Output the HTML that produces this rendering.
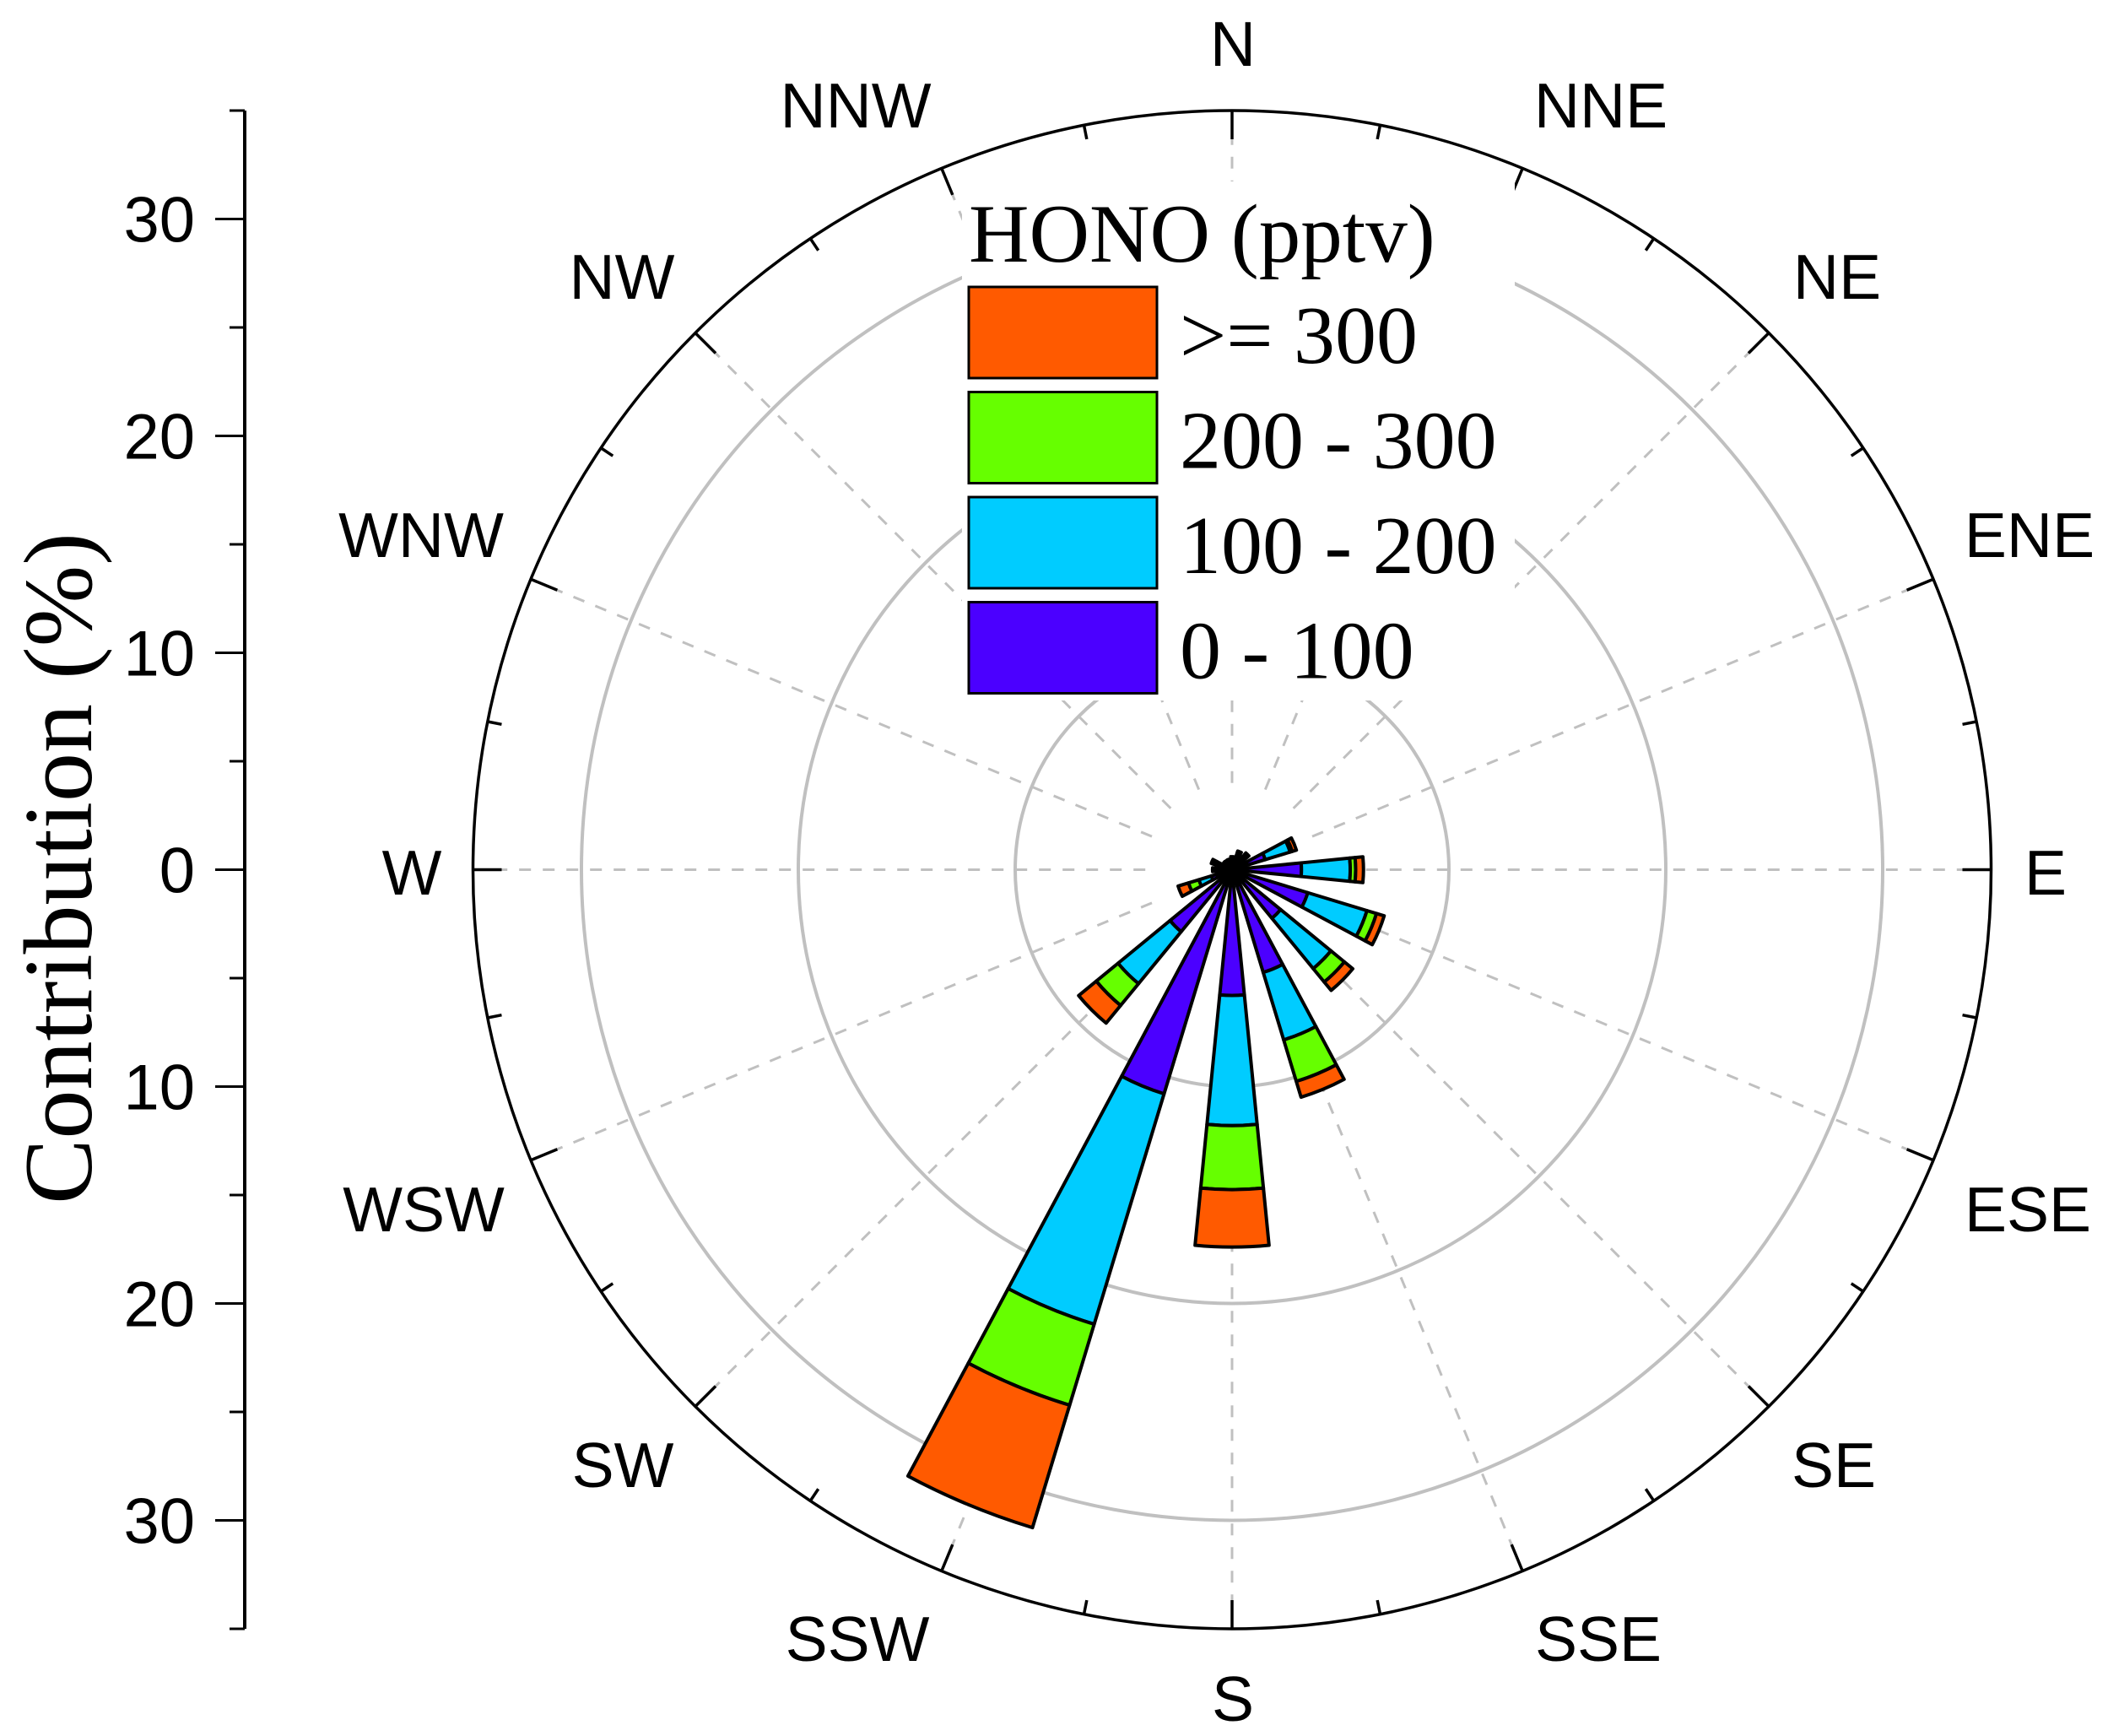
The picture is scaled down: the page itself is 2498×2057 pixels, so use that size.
<!DOCTYPE html>
<html><head><meta charset="utf-8"><style>
html,body{margin:0;padding:0;background:#fff;}
svg{display:block;}
</style></head><body>
<svg id="chart" width="2498" height="2057" viewBox="0 0 2498 2057" xmlns="http://www.w3.org/2000/svg">
<g id="grid"></g>
<g id="bars"></g>
<g id="frame"></g>
<g id="labels"></g>
<g id="yaxis"></g>
<text x="0" y="0" transform="translate(108,1029) rotate(-90)" text-anchor="middle" font-family="Liberation Serif, serif" font-size="116">Contribution (%)</text>
<g id="legend">
<rect x="1140" y="215" width="655" height="615" fill="#fff"/>
<text x="1148" y="310" font-family="Liberation Serif, serif" font-size="99">HONO (pptv)</text>
</g>
</svg>
<script>
const directions = ["N","NNE","NE","ENE","E","ESE","SE","SSE","S","SSW","SW","WSW","W","WNW","NW","NNW"];
const bin0to100 = [0.4,0.5,0.5,1.6,3.2,3.65,2.9,4.95,5.8,10.8,3.7,1.0,0.5,0.5,0.3,0.3];
const bin100to200 = [0.5,0.7,0.8,2.8,5.45,6.5,5.9,8.2,11.8,21.9,6.8,1.6,0.7,0.8,0.4,0.4];
const bin200to300 = [0.55,0.8,0.9,2.9,5.7,6.96,6.7,10.2,14.75,25.8,8.1,2.1,0.8,0.9,0.45,0.45];
const bin300plus = [0.6,0.9,1.0,3.1,6.06,7.33,7.2,10.96,17.4,31.7,9.15,2.6,0.9,1.0,0.5,0.5];
const legendLabels = [">= 300","200 - 300","100 - 200","0 - 100"];
const ringValues = [10,20,30];
const yTickValues = [30,20,10,0,10,20,30];
const yTickSigned = [30,20,10,0,-10,-20,-30];

const NS="http://www.w3.org/2000/svg";
const cx=1460, cy=1030.5, unit=25.7, rMax=35;
const colors=["#4B00FF","#00CCFF","#66FF00","#FF5A00"];
const labelPos=[[1461,51],[1897,124],[2177,327],[2405,633],[2424,1033],[2403,1432],[2173,1735],[1894,1941],[1461,2012],[1016,1941],[738,1735],[502,1432],[488,1033],[499,633],[737,327],[1014,124]];
function rScale(v){return v*unit;}
function pt(deg,v){const a=deg*Math.PI/180;return [cx+rScale(v)*Math.sin(a), cy-rScale(v)*Math.cos(a)];}
function mk(tag,attrs,parent){const e=document.createElementNS(NS,tag);for(const k in attrs)e.setAttribute(k,attrs[k]);parent.appendChild(e);return e;}

const grid=document.getElementById('grid');
ringValues.forEach(v=>{
  const c=mk('circle',{cx:cx,cy:cy,r:rScale(v),fill:'none',stroke:'#c0c0c0','stroke-width':4},grid);
  
  
});
directions.forEach((d,i)=>{
  const deg=i*22.5;const p1=pt(deg,4),p2=pt(deg,rMax);
  const l=mk('line',{x1:p1[0],y1:p1[1],x2:p2[0],y2:p2[1],stroke:'#c0c0c0','stroke-width':3,'stroke-dasharray':'14 14'},grid);
  
  
});

const bars=document.getElementById('bars');
const cum=[bin0to100,bin100to200,bin200to300,bin300plus];
const half=11.25/2;
directions.forEach((d,i)=>{
  const deg=i*22.5;
  for(let k=0;k<4;k++){
    const r0=k===0?0:cum[k-1][i], r1=cum[k][i];
    if(r1<=r0)continue;
    const a=pt(deg-half,r0),b=pt(deg-half,r1),c=pt(deg+half,r1),e=pt(deg+half,r0);
    const R1=rScale(r1),R0=rScale(r0);
    const dstr=`M${a[0]},${a[1]} L${b[0]},${b[1]} A${R1},${R1} 0 0 1 ${c[0]},${c[1]} L${e[0]},${e[1]} `+(R0>0?`A${R0},${R0} 0 0 0 ${a[0]},${a[1]} Z`:'Z');
    const p=mk('path',{d:dstr,fill:colors[k],stroke:'#000','stroke-width':4,'stroke-linejoin':'round'},bars);
    
    
  }
});

const frame=document.getElementById('frame');
const oc=mk('circle',{cx:cx,cy:cy,r:rScale(rMax),fill:'none',stroke:'#000','stroke-width':3.5},frame);


for(let j=0;j<32;j++){
  const deg=j*11.25;const len=(j%2===0)?34:17;
  const p1=pt(deg,rMax),p2=pt(deg,rMax-len/unit);
  const t=mk('line',{x1:p1[0],y1:p1[1],x2:p2[0],y2:p2[1],stroke:'#000','stroke-width':3.5},frame);
  
  
}

const labels=document.getElementById('labels');
directions.forEach((d,i)=>{
  const p=labelPos[i];
  const t=mk('text',{x:p[0],y:p[1]+27,'text-anchor':'middle','font-family':'Liberation Sans, sans-serif','font-size':75},labels);
  t.textContent=d;
  
  
});

const yaxis=document.getElementById('yaxis');
const ax=290;
const al=mk('line',{x1:ax,y1:cy-rScale(rMax),x2:ax,y2:cy+rScale(rMax),stroke:'#000','stroke-width':4},yaxis);


for(let v=-35;v<=35;v+=5){
  const y=cy-rScale(v);const major=(v%10===0);
  const t=mk('line',{x1:ax-(major?35:18),y1:y,x2:ax,y2:y,stroke:'#000','stroke-width':3},yaxis);
  
  
}
yTickValues.forEach((v,i)=>{
  const y=cy-rScale(yTickSigned[i]);
  const t=mk('text',{x:231,y:y+27,'text-anchor':'end','font-family':'Liberation Sans, sans-serif','font-size':76},yaxis);
  t.textContent=v;
  
  
});

const legend=document.getElementById('legend');
const legColors=[colors[3],colors[2],colors[1],colors[0]];
legendLabels.forEach((lab,i)=>{
  const y=340+i*124.5;
  const r=mk('rect',{x:1148,y:y,width:223,height:108,fill:legColors[i],stroke:'#000','stroke-width':3},legend);
  
  
  const t=mk('text',{x:1398,y:y+90,'font-family':'Liberation Serif, serif','font-size':98},legend);
  t.textContent=lab;
  
  
});
</script>
</body></html>
